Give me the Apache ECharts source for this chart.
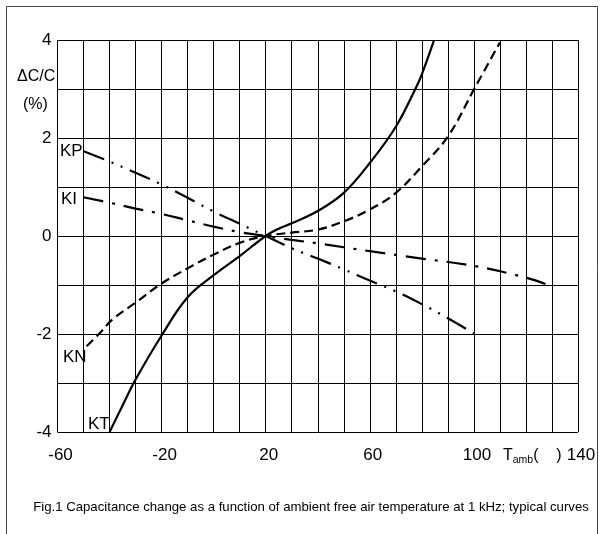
<!DOCTYPE html>
<html>
<head>
<meta charset="utf-8">
<script src="https://cdn.jsdelivr.net/npm/echarts@6/dist/echarts.min.js"></script>
<style>
html,body{margin:0;padding:0;background:#fff;}
#main{width:602px;height:534px;}
</style>
</head>
<body>
<div id="main"></div>
<script>
// Temperature (°C) and ΔC/C (%)
const ktTemp = [-40, -35, -30, -20, -10, 0, 10, 20, 25, 30, 40, 50, 60, 70, 77.5, 80, 84.6];
const ktVal  = [-4.0, -3.46, -2.93, -2.03, -1.25, -0.80, -0.41, 0, 0.15, 0.26, 0.51, 0.88, 1.49, 2.23, 3.0, 3.3, 3.98];

const knTemp = [-48.8, -43.7, -38.8, -30, -20, -10, 0, 10, 20, 30, 40, 50, 60, 70, 80, 90, 100, 110];
const knVal  = [-2.25, -1.98, -1.70, -1.36, -0.97, -0.66, -0.38, -0.14, 0, 0.07, 0.13, 0.30, 0.54, 0.88, 1.42, 2.03, 2.99, 3.95];

const kpTemp = [-50, -40, -30, -20, -10, 0, 10, 20, 30, 40, 50, 60, 70, 80, 90, 100];
const kpVal  = [1.73, 1.52, 1.29, 1.05, 0.78, 0.50, 0.25, 0, -0.25, -0.46, -0.68, -0.91, -1.13, -1.39, -1.68, -1.99];

const kiTemp = [-50, -40, -30, -20, -10, 0, 10, 20, 30, 40, 60, 80, 100, 120, 127.5];
const kiVal  = [0.79, 0.68, 0.56, 0.45, 0.32, 0.19, 0.08, 0, -0.08, -0.15, -0.31, -0.46, -0.61, -0.85, -0.98];

const xLabelTicks = [-60, -20, 20, 60, 100, 140];
const yLabelTicks = [-4, -2, 0, 2, 4];

function pairs(xs, ys) { return xs.map((x, i) => [x, ys[i]]); }

const chart = echarts.init(document.getElementById('main'), null, {renderer: 'canvas'});
const font = '"Liberation Sans", Arial, sans-serif';

function lineSeries(name, xs, ys, type) {
  return {
    name: name,
    type: 'line',
    data: pairs(xs, ys),
    showSymbol: false,
    smooth: 0.4,
    lineStyle: {color: '#000', width: 2.2, type: type},
    silent: true,
    animation: false
  };
}

chart.setOption({
  animation: false,
  backgroundColor: '#fff',
  grid: {left: 57.5, right: 24, top: 40, bottom: 102},
  xAxis: {
    type: 'value', min: -60, max: 140, interval: 10,
    axisLine: {show: false}, axisTick: {show: false},
    splitLine: {show: true, lineStyle: {color: '#000', width: 1}},
    axisLabel: {
      color: '#000', fontFamily: font, fontSize: 17, margin: 15,
      padding: [0, 0, 0, 6],
      formatter: v => xLabelTicks.indexOf(v) >= 0 ? String(v) : ''
    }
  },
  yAxis: {
    type: 'value', min: -4, max: 4, interval: 1,
    axisLine: {show: false}, axisTick: {show: false},
    splitLine: {show: true, lineStyle: {color: '#000', width: 1}},
    axisLabel: {
      color: '#000', fontFamily: font, fontSize: 17, margin: 6,
      padding: [8, 0, 0, 0],
      formatter: v => yLabelTicks.indexOf(v) >= 0 ? String(v) : ''
    }
  },
  series: [
    lineSeries('KT', ktTemp, ktVal, 'solid'),
    lineSeries('KN', knTemp, knVal, [9, 5]),
    lineSeries('KP', kpTemp, kpVal, [22, 8, 2, 8, 2, 8]),
    lineSeries('KI', kiTemp, kiVal, [20, 9, 3, 9])
  ],
  graphic: [
    {type: 'polyline', shape: {points: [[6.5, 540], [6.5, 6.5], [597.5, 6.5], [597.5, 540]]},
     style: {stroke: '#444', lineWidth: 1, fill: null}, silent: true},
    {type: 'text', left: 60, top: 143, style: {text: 'KP', fontSize: 17, fontFamily: font, fill: '#000'}},
    {type: 'text', left: 61, top: 191, style: {text: 'KI', fontSize: 17, fontFamily: font, fill: '#000'}},
    {type: 'text', left: 63, top: 349, style: {text: 'KN', fontSize: 17, fontFamily: font, fill: '#000'}},
    {type: 'text', left: 88, top: 416, style: {text: 'KT', fontSize: 17, fontFamily: font, fill: '#000'}},
    {type: 'text', left: 17, top: 69, style: {text: 'ΔC/C', fontSize: 16, fontFamily: font, fill: '#000'}},
    {type: 'text', left: 23, top: 97, style: {text: '(%)', fontSize: 16, fontFamily: font, fill: '#000'}},
    {type: 'text', left: 503, top: 448, style: {
      text: '{t|T}{s|amb}{t|(    )}',
      rich: {
        t: {fontSize: 16, fontFamily: font, fill: '#000', verticalAlign: 'bottom'},
        s: {fontSize: 10.5, fontFamily: font, fill: '#000', verticalAlign: 'bottom', padding: [0, 0, -2, 0]}
      }
    }},
    {type: 'text', x: 311, y: 507, style: {
      text: 'Fig.1 Capacitance change as a function of ambient free air temperature at 1 kHz; typical curves',
      fontSize: 13.2, fontFamily: font, fill: '#000', align: 'center', verticalAlign: 'middle'
    }}
  ]
});
</script>
</body>
</html>
